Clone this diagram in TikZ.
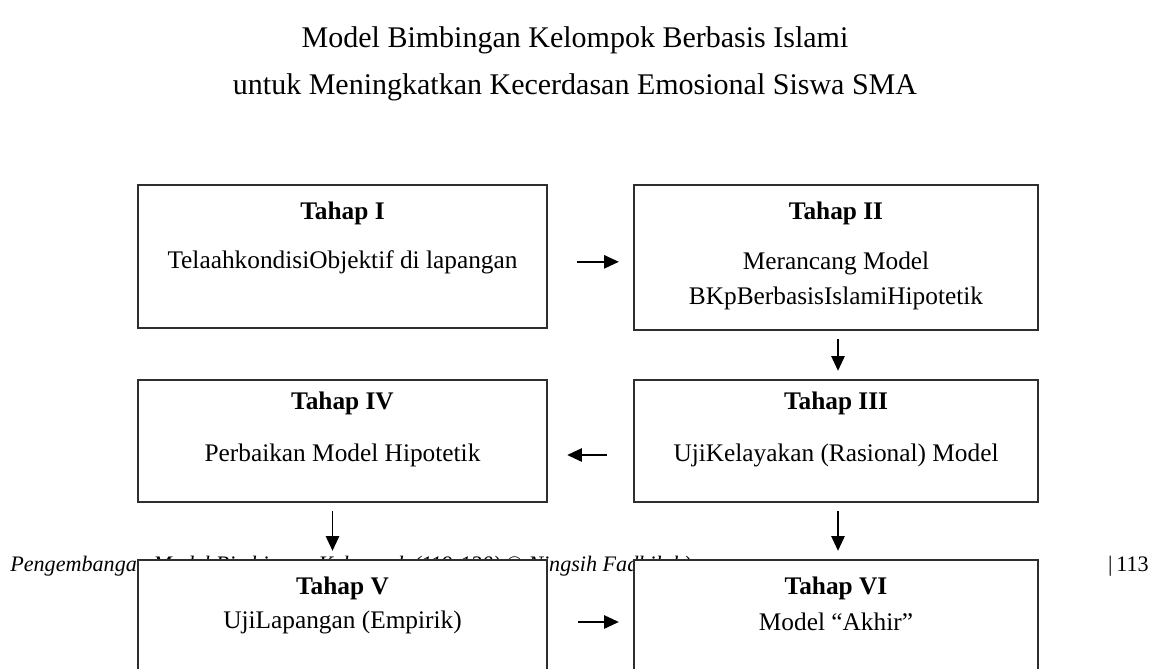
\documentclass[tikz,border=0pt]{standalone}
\usepackage{fontspec}
\setmainfont{Liberation Serif}
\usetikzlibrary{arrows.meta}
\begin{document}
\begin{tikzpicture}[x=0.75pt,y=-0.75pt,
  stagebox/.style={draw=black!82, line width=1.8pt, fill=white, inner sep=0pt},
  arr/.style={-{Triangle[length=11pt,width=10pt]}, line width=1.1pt},
  head/.style={font=\fontsize{19}{22}\selectfont\bfseries, inner sep=0pt},
  body/.style={font=\fontsize{19}{26}\selectfont, align=center, inner sep=0pt},
  ttl/.style={font=\fontsize{22.5}{26}\selectfont, inner sep=0pt},
  foot/.style={font=\fontsize{16.6}{20}\selectfont\itshape, inner sep=0pt},
]
\useasboundingbox (0,0) rectangle (1149,668);
\clip (0,0) rectangle (1149,668);
\fill[white] (0,0) rectangle (1149,668);
% titles
\node[ttl] (title1) at (575,40) {Model Bimbingan Kelompok Berbasis Islami};
\node[ttl] (title2) at (575,87) {untuk Meningkatkan Kecerdasan Emosional Siswa SMA};
% page footer (partly covered by the boxes below)
\node[foot, anchor=base west] (footer) at (10,571) {Pengembangan Model Bimbingan Kelompok (119-130) © Ningsih Fadhilah)};
\node[font=\fontsize{16.6}{20}\selectfont, inner sep=0pt, anchor=base east] (pageno) at (1149,571) {|\,113};
% boxes
\node[stagebox, minimum width=306.75pt, minimum height=107.25pt] (s1) at (342.5,256.5) {};
\node[stagebox, minimum width=303pt, minimum height=108.75pt] (s2) at (836,257.5) {};
\node[stagebox, minimum width=306.75pt, minimum height=91.5pt] (s4) at (342.5,441) {};
\node[stagebox, minimum width=303pt, minimum height=91.5pt] (s3) at (836,441) {};
\node[stagebox, minimum width=306.75pt, minimum height=120pt] (s5) at (342.5,640) {};
\node[stagebox, minimum width=303pt, minimum height=120pt] (s6) at (836,640) {};
% texts
\node[head] (h1) at (342.5,213) {Tahap I};
\node[body] (b1) at (342.5,262) {TelaahkondisiObjektif di lapangan};
\node[head] (h2) at (836,213) {Tahap II};
\node[body] (b2) at (836,281) {Merancang Model\\BKpBerbasisIslamiHipotetik};
\node[head] (h4) at (342.5,403) {Tahap IV};
\node[body] (b4) at (342.5,455) {Perbaikan Model Hipotetik};
\node[head] (h3) at (836,403) {Tahap III};
\node[body] (b3) at (836,455) {UjiKelayakan (Rasional) Model};
\node[head] (h5) at (342.5,588) {Tahap V};
\node[body] (b5) at (342.5,622) {UjiLapangan (Empirik)};
\node[head] (h6) at (836,588) {Tahap VI};
\node[body] (b6) at (836,622) {Model “Akhir”};
% arrows
\draw[arr, shorten <=21.75pt, shorten >=10.5pt] ([yshift=-4pt]s1.east) -- ([yshift=-4pt]s1.east -| s2.west);
\draw[arr, shorten <=6pt, shorten >=6pt] ([xshift=1.5pt]s2.south) -- ([xshift=1.5pt]s3.north);
\draw[arr, shorten <=19.5pt, shorten >=14.25pt] ([yshift=-10.5pt]s3.west) -- ([yshift=-10.5pt]s3.west -| s4.east);
\draw[arr, shorten <=6pt, shorten >=6pt] ([xshift=-7.5pt]s4.south) -- ([xshift=-7.5pt]s5.north);
\draw[arr, shorten <=6pt, shorten >=6pt] ([xshift=1.5pt]s3.south) -- ([xshift=1.5pt]s6.north);
\draw[arr, shorten <=22.5pt, shorten >=10.5pt] ([yshift=13.5pt]s5.east) -- ([yshift=13.5pt]s5.east -| s6.west);
\end{tikzpicture}
\end{document}
